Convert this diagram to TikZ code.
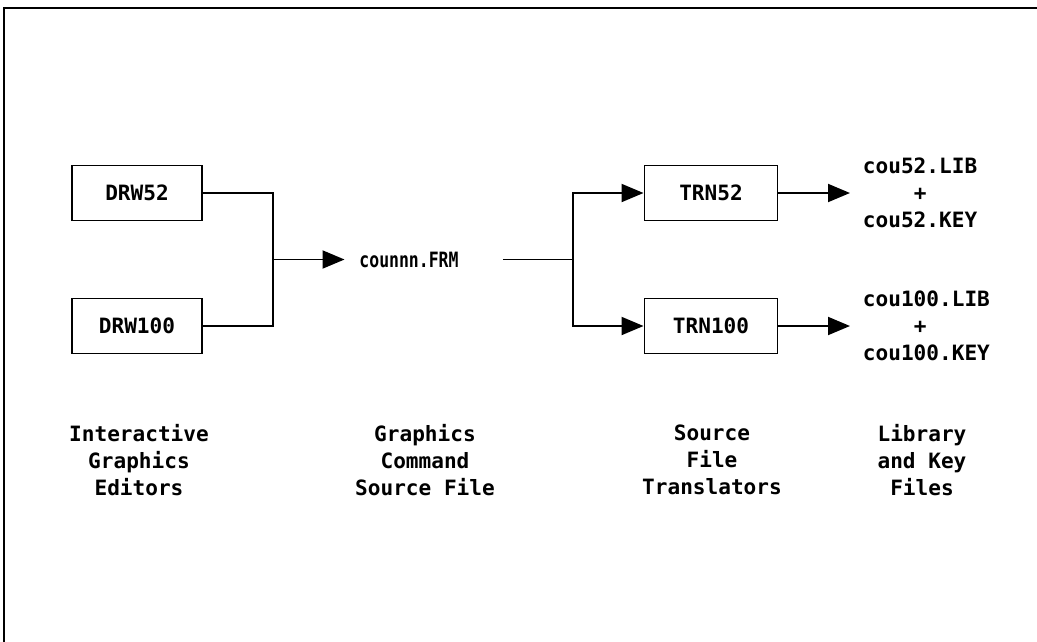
\documentclass[tikz,border=0pt]{standalone}
\usepackage{fontspec}
\usepackage{graphicx}
\newfontfamily\plotfont{DejaVu Sans Mono}
\usepackage{tikz}
\usetikzlibrary{positioning, arrows.meta}

\begin{document}
\begin{tikzpicture}[line width=1.1pt,
    font=\plotfont\bfseries\fontsize{12}{15.5}\selectfont,
    prog/.style={draw, minimum width=2.6cm, minimum height=1.1cm, inner sep=0pt},
    flow/.style={-{Triangle[length=0.44cm, width=0.36cm]}},
    caption/.style={align=center, inner sep=0pt}]

  \useasboundingbox (0,0) rectangle (20.74,-12.84);
  % page edge
  \draw[line width=1.6pt] (0.08,-12.84) -- (0.08,-0.16) -- (20.74,-0.16);

  % editors
  \node[prog] (drw52) at (2.74,-3.86) {DRW52};
  \node[prog] (drw100) at (2.74,-6.52) {DRW100};

  % source file
  \coordinate (inj) at (5.46,-5.19);
  \node[inner ysep=2pt, inner xsep=0.28cm] (frm) at (8.18,-5.19) {\scalebox{0.78}[1]{counnn.FRM}};
  \coordinate (outj) at (11.46,-5.19);

  % translators
  \node[prog, minimum width=2.66cm] (trn52) at (14.22,-3.86) {TRN52};
  \node[prog, minimum width=2.66cm] (trn100) at (14.22,-6.52) {TRN100};

  % library and key files
  \node[align=left, anchor=west, inner xsep=0.24cm] (lib52) at (17.0,-3.86) {cou52.LIB\\\phantom{cou5}+\\cou52.KEY};
  \node[align=left, anchor=west, inner xsep=0.24cm] (lib100) at (17.0,-6.52) {cou100.LIB\\\phantom{cou5}+\\cou100.KEY};

  \draw (drw52.east) -| (inj) |- (drw100.east);
  \draw[flow] (inj) -- (frm.west);
  \draw[shorten <=0.59cm] (frm.east) -- (outj);
  \draw[flow] (outj) |- (trn52.west);
  \draw[flow] (outj) |- (trn100.west);
  \draw[flow] (trn52.east) -- (lib52.west);
  \draw[flow] (trn100.east) -- (lib100.west);

  % column captions
  \node[caption] (capedit) at (2.78,-9.2) {Interactive\\Graphics\\Editors};
  \node[caption] (capsrc) at (8.5,-9.2) {Graphics\\Command\\Source File};
  \node[caption] (captrn) at (14.24,-9.2) {Source\\File\\Translators};
  \node[caption] (caplib) at (18.44,-9.2) {Library\\and Key\\Files};

\end{tikzpicture}
\end{document}
